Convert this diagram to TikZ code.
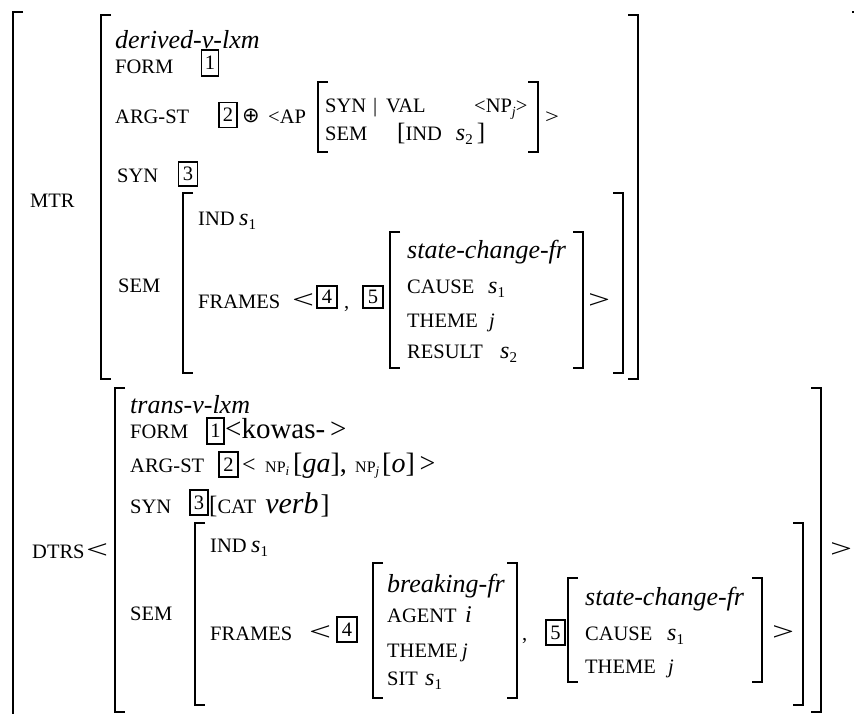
\documentclass[tikz,border=0pt]{standalone}
\usepackage{fontspec}
\usepackage{graphicx}
\setmainfont{Liberation Serif}
\newfontfamily\dejavu{DejaVu Sans}
\newcommand\lf{\fontsize{20.5}{24}\selectfont}
\newcommand\tf{\fontsize{26}{30}\selectfont\itshape}
\newcommand\vf{\fontsize{24}{28}\selectfont\itshape}
\newcommand\sbf{\fontsize{15}{18}\selectfont}
\newcommand\svar[2]{{\vf #1}{\sbf\raisebox{-4pt}{#2}}}
\newcommand\myLT{{\fontsize{26}{28}\selectfont\scalebox{1.5}[1]{<}}}
\newcommand\myGT{{\fontsize{26}{28}\selectfont\scalebox{1.5}[1]{>}}}
\newcommand\Lbr[3]{\draw[brk] (#1+10,#2) -- (#1,#2) -- (#1,#3) -- (#1+10,#3);}
\newcommand\Rbr[3]{\draw[brk] (#1-10,#2) -- (#1,#2) -- (#1,#3) -- (#1-10,#3);}
\begin{document}
\begin{tikzpicture}[x=1pt,y=-1pt,
  brk/.style={line width=1.7pt},
  t/.style={anchor=base west,inner sep=0pt,font=\lf},
  bx/.style={draw,line width=1.5pt,inner sep=0pt,font=\lf,minimum width=18pt,minimum height=25pt}]
\useasboundingbox (0,0) rectangle (854,713);
% outer bracket and stray mark
\draw[brk] (23,12) -- (13,12) -- (13,720);
\fill (852,10.5) rectangle (854,12.5);
% ================= MTR =================
\node[t] (mtr) at (30,207) {MTR};
\Lbr{101}{15}{379}
\Rbr{638}{15}{379}
\node[t,font=\tf] (ty1) at (115,48) {derived-v-lxm};
\node[t] (fo1) at (115,73) {FORM};
\node[bx,minimum width=17pt,minimum height=26pt] (b1a) at (210,63) {1};
\node[t] (ar1) at (115,123) {ARG-ST};
\node[bx] (b2a) at (228,115) {2};
\node[inner sep=0pt,font=\dejavu\fontsize{21}{21}\selectfont] (op) at (251,116) {⊕};
\node[t] (ap) at (268,123) {<AP};
\Lbr{318}{82}{152}
\Rbr{538}{82}{152}
\node[t] (sv) at (325,112) {SYN};
\node[t] (bar) at (373,112) {|};
\node[t] (val) at (386,112) {VAL};
\node[t] (npj) at (474,112) {<NP{\fontsize{14}{14}\selectfont\itshape\raisebox{-4pt}{j}}>};
\node[t] (sm0) at (325,140) {SEM};
\node[t] (ind0) at (397,140) {{\fontsize{25}{25}\selectfont[}IND\hspace{14pt}\svar{s}{2}\hspace{4pt}{\fontsize{25}{25}\selectfont]}};
\node[t] (gt0) at (545,123) {\scalebox{1.2}[1]{>}};
\node[t] (sy1) at (117,182) {SYN};
\node[bx,minimum width=19pt,minimum height=24pt] (b3a) at (188,174) {3};
\node[t] (sm1) at (118,292) {SEM};
\Lbr{183}{193}{373}
\Rbr{623}{193}{373}
\node[t] (in1) at (198,225) {IND};
\node[t] (in1v) at (239,225) {\svar{s}{1}};
\node[t] (fr1) at (198,308) {FRAMES};
\node[t] (lt1) at (292,308) {\myLT};
\node[bx,minimum width=20pt,minimum height=22pt] (b4a) at (327,297) {4};
\node[t] (cm1) at (344,308) {,};
\node[bx,minimum width=20pt,minimum height=22pt] (b5a) at (373,297) {5};
\Lbr{390}{232}{368}
\Rbr{583}{232}{368}
\node[t,font=\tf] (sc1) at (407,258) {state-change-fr};
\node[t] (ca1) at (407,293) {CAUSE};
\node[t] (ca1v) at (488,293) {\svar{s}{1}};
\node[t] (th1) at (407,327) {THEME};
\node[t] (th1v) at (489,327) {\textit{j}};
\node[t] (re1) at (407,358) {RESULT};
\node[t] (re1v) at (500,358) {\svar{s}{2}};
\node[t] (gt1) at (588,308) {\myGT};
% ================= DTRS =================
\node[t] (dt) at (32,558) {DTRS};
\node[t] (lt2) at (86,558) {\myLT};
\Lbr{115}{388}{712}
\Rbr{821}{388}{712}
\node[t] (gt2) at (830,557) {\myGT};
\node[t,font=\tf] (ty2) at (130,413) {trans-v-lxm};
\node[t] (fo2) at (130,438) {FORM};
\node[bx,minimum width=17pt,minimum height=26pt] (b1b) at (215.5,431) {1};
\node[t,font=\fontsize{29}{32}\selectfont] (kw) at (225,438) {<kowas-\,>};
\node[t] (ar2) at (130,472) {ARG-ST};
\node[bx,minimum width=19pt,minimum height=25pt] (b2b) at (228.5,464.5) {2};
\node[t,font=\fontsize{24}{26}\selectfont] (lt3) at (242,472) {<};
\node[t,font=\fontsize{16}{18}\selectfont] (np1) at (265,472) {NP{\fontsize{13}{13}\selectfont\itshape\raisebox{-3pt}{i}}};
\node[t,font=\fontsize{28}{30}\selectfont] (ga) at (293,472) {[\textit{ga}],};
\node[t,font=\fontsize{16}{18}\selectfont] (np2) at (355,472) {NP{\fontsize{13}{13}\selectfont\itshape\raisebox{-3pt}{j}}};
\node[t,font=\fontsize{28}{30}\selectfont] (oo) at (382,472) {[\textit{o}]\,>};
\node[t] (sy2) at (130,513) {SYN};
\node[bx,minimum width=18pt,minimum height=25pt] (b3b) at (199,502.5) {3};
\node[t] (cat) at (209,513) {{\fontsize{25}{25}\selectfont[}CAT\hspace{9pt}{\fontsize{30}{32}\selectfont\itshape verb}\hspace{2pt}{\fontsize{27}{27}\selectfont]}};
\node[t] (sm2) at (130,620) {SEM};
\Lbr{195}{523}{705}
\Rbr{803}{523}{705}
\node[t] (in2) at (210,552) {IND};
\node[t] (in2v) at (251,552) {\svar{s}{1}};
\node[t] (fr2) at (210,640) {FRAMES};
\node[t] (lt4) at (309,640) {\myLT};
\node[bx,minimum width=20pt,minimum height=25pt] (b4b) at (347,629.5) {4};
\Lbr{373}{563}{698}
\Rbr{517}{563}{698}
\node[t,font=\tf] (bk) at (387,592) {breaking-fr};
\node[t] (ag) at (387,622) {AGENT};
\node[t] (agv) at (465,622) {{\vf i}};
\node[t] (th2) at (387,657) {THEME};
\node[t] (th2v) at (462,657) {\textit{j}};
\node[t] (si) at (387,685) {SIT};
\node[t] (siv) at (425,685) {\svar{s}{1}};
\node[t] (cm2) at (522,640) {,};
\node[bx,minimum width=19pt,minimum height=25pt] (b5b) at (555.5,632.5) {5};
\Lbr{568}{578}{682}
\Rbr{762}{578}{682}
\node[t,font=\tf] (sc2) at (585,605) {state-change-fr};
\node[t] (ca2) at (585,640) {CAUSE};
\node[t] (ca2v) at (667,640) {\svar{s}{1}};
\node[t] (th3) at (585,673) {THEME};
\node[t] (th3v) at (668,673) {\textit{j}};
\node[t] (gt3) at (772,640) {\myGT};
\end{tikzpicture}
\end{document}
